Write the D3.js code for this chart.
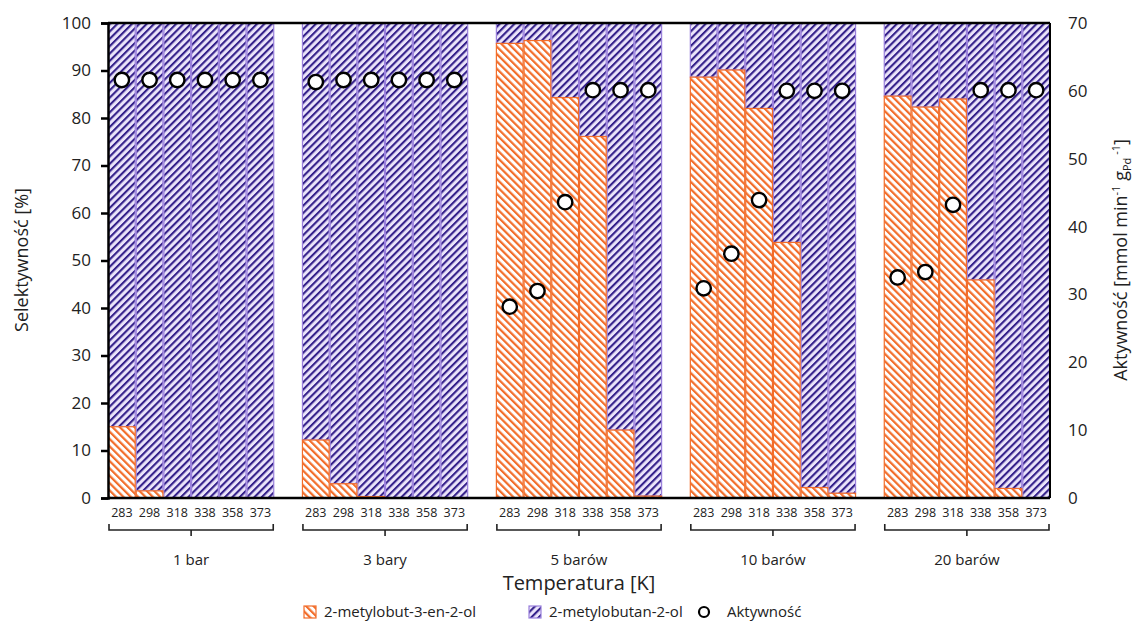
<!DOCTYPE html>
<html><head><meta charset="utf-8">
<script src="https://cdn.jsdelivr.net/npm/d3@7"></script>
<style>body{margin:0;background:#fff}svg{display:block}text{font-family:"Open Sans","Noto Sans",sans-serif;fill:#222}</style>
</head><body><svg id="c" width="1141" height="627"></svg>
<script>
const temperatures = ["283","298","318","338","358","373"];
const pressures = ["1 bar","3 bary","5 barów","10 barów","20 barów"];
const alkene = [ // 2-metylobut-3-en-2-ol [%]
  [15.0, 1.5, 0, 0, 0, 0],
  [12.2, 3.0, 0.3, 0, 0, 0],
  [95.7, 96.3, 84.3, 76.1, 14.3, 0.4],
  [88.6, 90.1, 82.0, 53.8, 2.2, 1.0],
  [84.6, 82.3, 84.0, 45.9, 2.0, 0]
];
const alkane = [ // 2-metylobutan-2-ol [%]
  [85.0, 98.5, 100, 100, 100, 100],
  [87.8, 97.0, 99.7, 100, 100, 100],
  [4.3, 3.7, 15.7, 23.9, 85.7, 99.6],
  [11.4, 9.9, 18.0, 46.2, 97.8, 99.0],
  [15.4, 17.7, 16.0, 54.1, 98.0, 100]
];
const activity = [
  [61.6, 61.6, 61.6, 61.6, 61.6, 61.6],
  [61.3, 61.6, 61.6, 61.6, 61.6, 61.6],
  [28.2, 30.5, 43.6, 60.1, 60.1, 60.1],
  [30.9, 36.0, 43.9, 60.0, 60.0, 60.0],
  [32.5, 33.3, 43.2, 60.1, 60.1, 60.1]
];
const leftTicks = [0,10,20,30,40,50,60,70,80,90,100];
const rightTicks = [0,10,20,30,40,50,60,70];

const svg = d3.select("#c");
const L = 108, R = 1050, T = 23, B = 498;

// slots: 6 bars per group + 1 empty slot between groups
const slots = [];
pressures.forEach((p, gi) => {
  temperatures.forEach(t => slots.push(gi + "-" + t));
  if (gi < pressures.length - 1) slots.push("gap" + gi);
});
const x = d3.scaleBand().domain(slots).range([L, R]).padding(0);
const yL = d3.scaleLinear().domain([0, 100]).range([B, T]);
const yR = d3.scaleLinear().domain([0, 70]).range([B, T]);

const defs = svg.append("defs");
function hatch(id, bg, fg, angle, sw, sp) {
  const p = defs.append("pattern").attr("id", id).attr("patternUnits", "userSpaceOnUse")
    .attr("width", sp).attr("height", sp).attr("patternTransform", `rotate(${angle})`);
  p.append("rect").attr("width", sp).attr("height", sp).attr("fill", bg);
  p.append("rect").attr("width", sw).attr("height", sp).attr("fill", fg);
}
hatch("pOr", "#fff", "#f26d2a", -45, 2.2, 5.2);
hatch("pPu", "#ebe4fa", "#34208a", 45, 2.1, 5.2);

const rows = [];
pressures.forEach((p, gi) => temperatures.forEach((t, ti) => {
  rows.push({key: gi + "-" + t, a: alkene[gi][ti], b: alkane[gi][ti], act: activity[gi][ti]});
}));

const g = svg.append("g");
// alkane (purple) stacked on top
g.selectAll(".pu").data(rows).join("rect")
  .attr("x", d => x(d.key) + 0.5).attr("width", x.bandwidth() - 1)
  .attr("y", d => yL(d.a + d.b)).attr("height", d => yL(d.a) - yL(d.a + d.b))
  .attr("fill", "url(#pPu)").attr("stroke", "#9a80dc").attr("stroke-width", 1.2)
  .style("display", d => d.b > 0 ? null : "none");
g.selectAll(".or").data(rows).join("rect")
  .attr("x", d => x(d.key) + 0.5).attr("width", x.bandwidth() - 1)
  .attr("y", d => yL(d.a)).attr("height", d => yL(0) - yL(d.a))
  .attr("fill", "url(#pOr)").attr("stroke", "#f26d2a").attr("stroke-width", 1.2)
  .style("display", d => d.a > 0 ? null : "none");

// frame
svg.append("line").attr("x1", L).attr("x2", R).attr("y1", T).attr("y2", T).attr("stroke", "#000").attr("stroke-width", 2.5);
svg.append("line").attr("x1", L).attr("x2", R).attr("y1", B).attr("y2", B).attr("stroke", "#000").attr("stroke-width", 2.5);
svg.append("line").attr("x1", R).attr("x2", R).attr("y1", T).attr("y2", B).attr("stroke", "#000").attr("stroke-width", 2);

// left axis
const ax = svg.append("g").attr("transform", `translate(${L},0)`)
  .call(d3.axisLeft(yL).tickValues(leftTicks).tickSize(7).tickPadding(10));
ax.select(".domain").attr("stroke", "#000").attr("stroke-width", 2.5);
ax.selectAll(".tick line").attr("stroke", "#000").attr("stroke-width", 2.5);
ax.selectAll("text").style("font-size", "17px").attr("fill", "#222");

const ar = svg.append("g").attr("transform", `translate(${R},0)`)
  .call(d3.axisRight(yR).tickValues(rightTicks).tickSize(0).tickPadding(18));
ar.select(".domain").remove();
ar.selectAll("text").style("font-size", "17px").attr("fill", "#222");

// activity circles
g.selectAll(".act").data(rows).join("circle")
  .attr("cx", d => x(d.key) + x.bandwidth() / 2).attr("cy", d => yR(d.act))
  .attr("r", 7.2).attr("fill", "#fff").attr("stroke", "#000").attr("stroke-width", 2.4);

// temperature labels
svg.append("g").selectAll("text").data(rows).join("text")
  .attr("x", d => x(d.key) + x.bandwidth() / 2).attr("y", 517)
  .attr("text-anchor", "middle").style("font-size", "12.5px").text(d => d.key.split("-")[1]);

// brackets & group labels
pressures.forEach((p, gi) => {
  const x0 = x(gi + "-" + temperatures[0]) + 1, x1 = x(gi + "-" + temperatures[5]) + x.bandwidth() - 1;
  const xm = (x0 + x1) / 2;
  svg.append("path").attr("d", `M${x0},524 L${x0},530 L${x1},530 L${x1},524 M${xm},530 L${xm},536`)
    .attr("fill", "none").attr("stroke", "#222").attr("stroke-width", 1.6);
  svg.append("text").attr("x", xm).attr("y", 565).attr("text-anchor", "middle")
    .style("font-size", "15px").text(p);
});

svg.append("text").attr("x", 579).attr("y", 590).attr("text-anchor", "middle")
  .style("font-size", "20px").text("Temperatura [K]");

svg.append("text").attr("transform", "translate(28,260) rotate(-90)").attr("text-anchor", "middle")
  .style("font-size", "18px").text("Selektywność [%]");

const rt = svg.append("text").attr("transform", "translate(1127,260) rotate(-90)").attr("text-anchor", "middle")
  .style("font-size", "18px");
rt.append("tspan").text("Aktywność [mmol min");
rt.append("tspan").attr("dy", -7).style("font-size", "11px").text("-1");
rt.append("tspan").attr("dy", 7).text(" g");
rt.append("tspan").attr("dy", 4).style("font-size", "11px").text("Pd");
rt.append("tspan").attr("dy", -11).style("font-size", "11px").text(" -1");
rt.append("tspan").attr("dy", 7).text("]");

// legend
const leg = svg.append("g");
leg.append("rect").attr("x", 304).attr("y", 606).attr("width", 12).attr("height", 12)
  .attr("fill", "url(#pOr)").attr("stroke", "#f26d2a").attr("stroke-width", 1.2);
leg.append("text").attr("x", 324).attr("y", 617).style("font-size", "15px").text("2-metylobut-3-en-2-ol");
leg.append("rect").attr("x", 529).attr("y", 606).attr("width", 12).attr("height", 12)
  .attr("fill", "url(#pPu)").attr("stroke", "#9a80dc").attr("stroke-width", 1.2);
leg.append("text").attr("x", 549).attr("y", 617).style("font-size", "15px").text("2-metylobutan-2-ol");
leg.append("circle").attr("cx", 704).attr("cy", 612).attr("r", 5).attr("fill", "#fff").attr("stroke", "#000").attr("stroke-width", 2.2);
leg.append("text").attr("x", 727).attr("y", 617).style("font-size", "15px").text("Aktywność");
</script></body></html>
